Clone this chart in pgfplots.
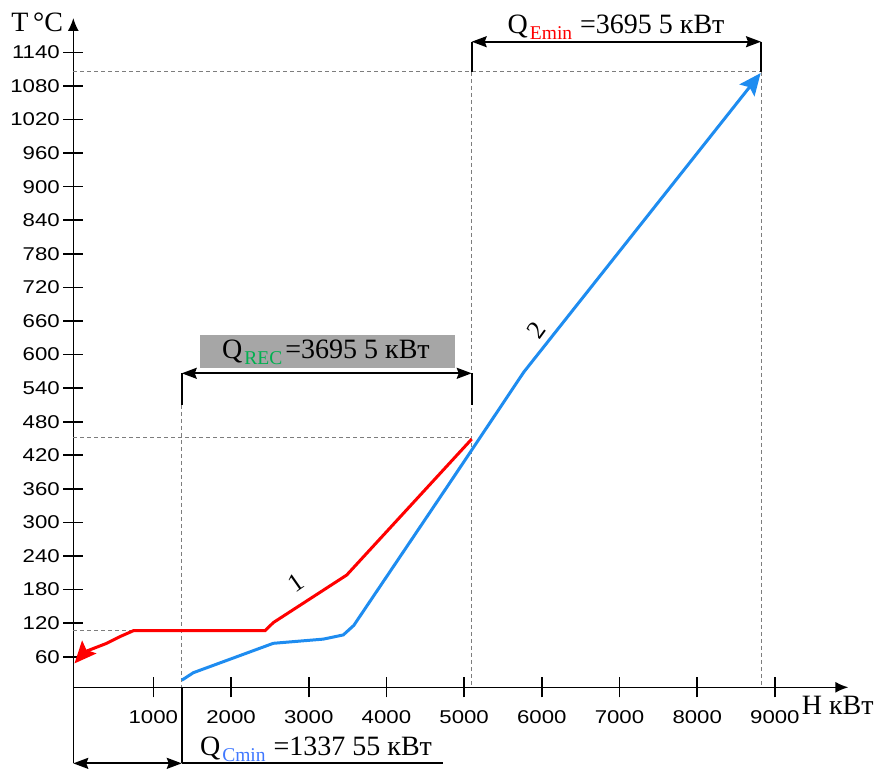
\documentclass[border=0pt]{standalone}
\usepackage{fontspec}
\setmainfont{Liberation Serif}
\newfontfamily\arialf{Liberation Sans}
\usepackage{graphicx}
\usepackage{xcolor}
\usepackage{pgfplots}
\pgfplotsset{compat=1.18}
\usetikzlibrary{arrows.meta}
\definecolor{cblue}{RGB}{30,140,240}
\definecolor{cminblue}{RGB}{64,120,255}
\definecolor{recgreen}{RGB}{0,176,80}
\definecolor{boxgray}{RGB}{166,166,166}
\definecolor{dashgray}{RGB}{125,125,125}
\newcommand{\qfont}{\fontsize{28}{28}\selectfont}
\newcommand{\subq}[2]{\raisebox{-6pt}{\fontsize{19.5}{19.5}\selectfont\color{#1}#2}}
\begin{document}
\begin{tikzpicture}
\useasboundingbox (-73.3pt,-83.7pt) rectangle (808.7pt,687.3pt);
\begin{axis}[
  at={(0pt,0pt)}, anchor=south west,
  scale only axis, width=775pt, height=669.3pt,
  xmin=-30, xmax=9945, ymin=5.4, ymax=1201.4,
  axis lines=left,
  axis line style={line width=1.5pt, -{Latex[length=13pt,width=11pt]}},
  xtick={1000,2000,...,9000},
  ytick={60,120,...,1140},
  tick align=center, major tick length=20pt,
  every tick/.style={black, line width=1.6pt},
  /pgf/number format/assume math mode=true,
  /pgf/number format/1000 sep={},
  tick label style={font=\arialf\fontsize{18.5}{18.5}\selectfont},
  xticklabel style={yshift=-10pt},
  xticklabel={\scalebox{1.2}[1]{\pgfmathprintnumber{\tick}}},
  yticklabel={\scalebox{1.2}[1]{\pgfmathprintnumber{\tick}}},
  clip=false,
]
% dashed helper lines
\draw[dashgray, line width=0.9pt, dash pattern=on 4pt off 3pt]
  (axis cs:-30,1105) -- (axis cs:8821,1105)
  (axis cs:-30,451) -- (axis cs:5098,451)
  (axis cs:-30,106.5) -- (axis cs:1366,106.5)
  (axis cs:1366,510) -- (axis cs:1366,5.4)
  (axis cs:5098,1105) -- (axis cs:5098,5.4)
  (axis cs:8821,1105) -- (axis cs:8821,5.4);

% curves
\addplot[red, line width=3pt, arrows={Stealth[length=22pt,width=19pt,inset=4pt]-}] coordinates {
 (-15,48) (121,69) (400,84) (571,96) (743,106.5) (2438,106.5) (2544,121) (3489,206) (5098,449)};
\addplot[cblue, line width=3pt, arrows={-Stealth[length=22pt,width=19pt,inset=4pt]}] coordinates {
 (1366,18) (1515,31.5) (2544,84) (3188,91.5) (3445,99) (3580,116) (4841,376) (5770,569) (8817,1103)};

\node[rotate=35, font=\fontsize{26}{26}\selectfont] at (axis cs:2830,192) {1};
\node[rotate=54, font=\fontsize{26}{26}\selectfont] at (axis cs:5934,644) {2};

% Q_REC box and dimension
\fill[boxgray] (axis cs:1601,575.4) rectangle (axis cs:4883,635);
\node[anchor=base, inner sep=0pt, font=\qfont] at (axis cs:3222,593) {Q\hspace{2pt}\subq{recgreen}{REC}\hspace{3pt}=3695 5 кВт};
\draw[black, line width=2pt] (axis cs:1366,566.5) -- (axis cs:1366,510);
\draw[black, line width=2pt] (axis cs:5098,566.5) -- (axis cs:5098,510);
\draw[black, line width=1.8pt, {Stealth[length=15pt,width=11pt,inset=2pt]}-{Stealth[length=15pt,width=11pt,inset=2pt]}] (axis cs:1366,566.5) -- (axis cs:5098,566.5);

% Q_Emin dimension
\node[anchor=base, inner sep=0pt, font=\qfont] at (axis cs:6956,1174) {Q\hspace{2pt}\subq{red}{Emin}\hspace{8pt}=3695 5 кВт};
\draw[black, line width=2pt] (axis cs:5098,1159) -- (axis cs:5098,1105);
\draw[black, line width=2pt] (axis cs:8821,1159) -- (axis cs:8821,1105);
\draw[black, line width=1.8pt, {Stealth[length=15pt,width=11pt,inset=2pt]}-{Stealth[length=15pt,width=11pt,inset=2pt]}] (axis cs:5098,1159) -- (axis cs:8821,1159);

% Q_Cmin dimension (below axis)
\draw[black, line width=1.5pt] (axis cs:-30,5.4) -- (axis cs:-30,-130.5);
\draw[black, line width=1.8pt] (axis cs:1366,5.4) -- (axis cs:1366,-130.5);
\draw[black, line width=1.8pt] (axis cs:1366,-130.5) -- (axis cs:4732,-130.5);
\draw[black, line width=1.8pt, {Stealth[length=15pt,width=11pt,inset=2pt]}-{Stealth[length=15pt,width=11pt,inset=2pt]}] (axis cs:-30,-130.5) -- (axis cs:1366,-130.5);
\node[anchor=base, inner sep=0pt, font=\qfont] at (axis cs:3094,-117) {Q\hspace{2pt}\subq{cminblue}{Cmin}\hspace{8pt}=1337 55 кВт};

% axis labels
\node[anchor=base east, inner sep=0pt, font=\fontsize{28}{28}\selectfont] at (axis cs:-160,1177) {T\,°C};
\node[anchor=base west, inner sep=0pt, font=\fontsize{28}{28}\selectfont] at (axis cs:9345,-44) {H кВт};
\end{axis}
\end{tikzpicture}
\end{document}
